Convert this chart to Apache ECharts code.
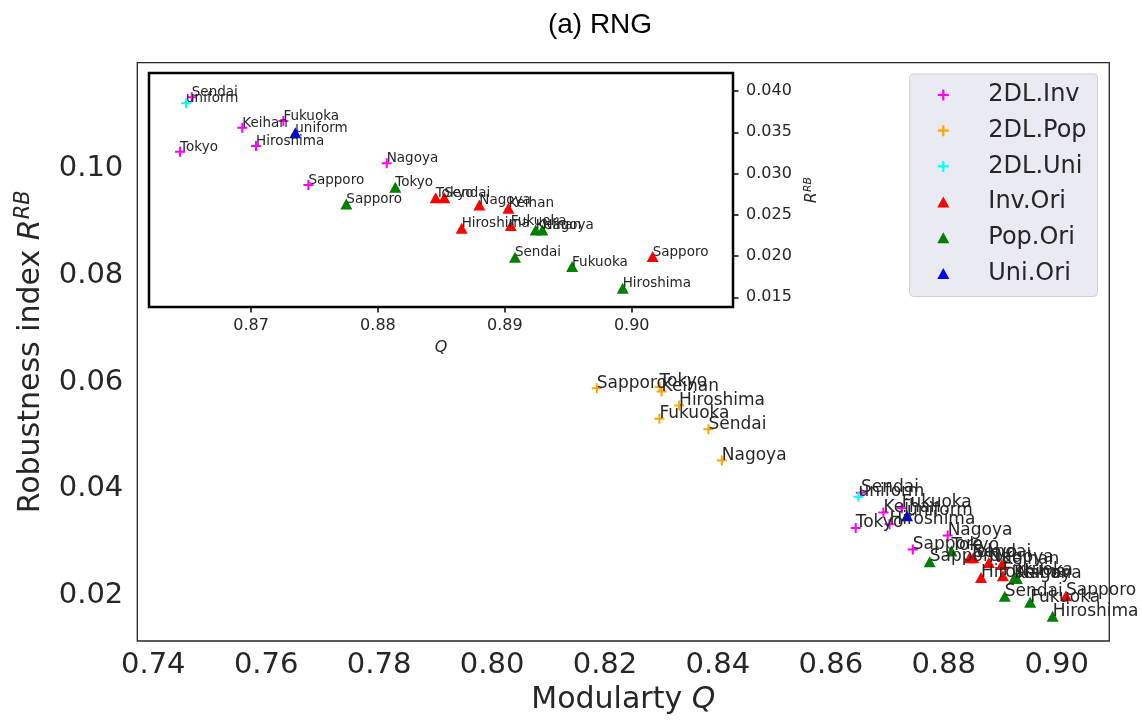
<!DOCTYPE html>
<html>
<head>
<meta charset="utf-8">
<script src="https://cdn.jsdelivr.net/npm/echarts@6/dist/echarts.min.js"></script>
<style>html,body{margin:0;padding:0;background:#fff;}#c{width:1142px;height:723px;}</style>
</head>
<body>
<div id="c"></div>
<script>
// ---- data ----
const cities = ['Tokyo','Sendai','Nagoya','Keihan','Hiroshima','Fukuoka','Sapporo'];
const inv2dlQ = [0.86441,0.86533,0.88069,0.86931,0.87039,0.87255,0.87452];
const inv2dlR = [0.03265,0.03924,0.03125,0.03556,0.03334,0.03637,0.02862];
const pop2dlQ = [0.82967,0.83832,0.84069,0.83003,0.83313,0.82964,0.81855];
const pop2dlR = [0.05906,0.05116,0.04529,0.05822,0.05560,0.05311,0.05884];
const uniNames = ['uniform'];
const uni2dlQ = [0.86488];
const uni2dlR = [0.03851];
const invOriQ = [0.88455,0.88523,0.88799,0.89028,0.88660,0.89047,0.90165];
const invOriR = [0.02708,0.02708,0.02620,0.02580,0.02338,0.02370,0.01994];
const popOriQ = [0.88137,0.89080,0.89296,0.89243,0.89929,0.89530,0.87751];
const popOriR = [0.02834,0.01987,0.02317,0.02317,0.01611,0.01873,0.02632];
const uniOriQ = [0.87349];
const uniOriR = [0.03495];

const mainXTicks = [0.74,0.76,0.78,0.80,0.82,0.84,0.86,0.88,0.90];
const mainYTicks = [0.02,0.04,0.06,0.08,0.10];
const insetXTicks = [0.87,0.88,0.89,0.90];
const insetYTicks = [0.015,0.020,0.025,0.030,0.035,0.040];

// ---- helpers ----
const PLUS = 'path://M4,0H6V4H10V6H6V10H4V6H0V4H4Z';
const TRIPATH = 'path://M6,0L12,11L0,11Z';
const FONT = 'DejaVu Sans';
const TXT = '#262626';
function pts(qs, rs, names){ return qs.map((q,i)=>({name:names[i], value:[q, rs[i]]})); }
function sc(name, data, symbol, size, color, inset){
  return {
    type:'scatter', name:name, data:data,
    xAxisIndex: inset?1:0, yAxisIndex: inset?1:0,
    symbol:symbol, symbolSize:size,
    itemStyle:{color:color, opacity:1},
    z: inset?7:2,
    label:{show:true, formatter:'{b}', position:['50%','50%'], align:'left', verticalAlign:'bottom',
      offset:[0, inset?2.7:3.4], fontSize: inset?13.5:17, fontFamily:FONT, color:TXT},
    emphasis:{disabled:true}, silent:true
  };
}
const TRI = [12,11];
const defs = [
  ['2DL.Inv', pts(inv2dlQ,inv2dlR,cities), PLUS, 10, '#ff00ff', true],
  ['2DL.Pop', pts(pop2dlQ,pop2dlR,cities), PLUS, 10, '#ffa500', false],
  ['2DL.Uni', pts(uni2dlQ,uni2dlR,uniNames), PLUS, 10, '#00ffff', true],
  ['Inv.Ori', pts(invOriQ,invOriR,cities), 'triangle', TRI, '#ff0000', true],
  ['Pop.Ori', pts(popOriQ,popOriR,cities), 'triangle', TRI, '#008000', true],
  ['Uni.Ori', pts(uniOriQ,uniOriR,uniNames), 'triangle', TRI, '#0000ff', true]
];
const series = [];
defs.forEach(d=>{ series.push(sc(d[0],d[1],d[2],d[3],d[4],false)); });
defs.forEach(d=>{ if(d[5]) series.push(sc(d[0],d[1],d[2],d[3],d[4],true)); });

const chart = echarts.init(document.getElementById('c'), null, {renderer:'canvas'});
chart.setOption({
  animation:false,
  backgroundColor:'#ffffff',
  graphic:[
    {type:'text', x:600, y:25, z:20, style:{text:'(a) RNG', font:'28px "Liberation Sans", Arial, sans-serif', fill:'#000', textAlign:'center', textVerticalAlign:'middle'}},
    {type:'rect', z:9, shape:{x:909.5, y:74, width:188, height:222.5, r:4}, style:{fill:'#eaeaf2', stroke:'#cfcfd6', lineWidth:1}}
  ],
  legend:{
    orient:'vertical', left:937.3, top:83, padding:0, z:10,
    itemWidth:12, itemHeight:11, itemGap:11.7, selectedMode:false,
    textStyle:{fontSize:24, fontFamily:FONT, color:TXT, lineHeight:24, padding:[0,0,0,34]},
    data:[
      {name:'2DL.Inv', icon:PLUS},{name:'2DL.Pop', icon:PLUS},{name:'2DL.Uni', icon:PLUS},
      {name:'Inv.Ori', icon:TRIPATH},{name:'Pop.Ori', icon:TRIPATH},{name:'Uni.Ori', icon:TRIPATH}
    ]
  },
  grid:[
    {left:137.3, top:62.7, width:972, height:578.3, show:true, backgroundColor:'#fff', borderColor:'#262626', borderWidth:1.3, z:0},
    {left:149, top:73, width:584, height:234, show:true, backgroundColor:'#fff', borderColor:'#000', borderWidth:2.5, z:5}
  ],
  xAxis:[
    {type:'value', gridIndex:0, min:0.73717, max:0.90932,
     axisLine:{show:false}, axisTick:{show:false}, splitLine:{show:false},
     axisLabel:{customValues:mainXTicks, formatter:v=>v.toFixed(2), fontSize:29, fontFamily:FONT, color:TXT, margin:10},
     name:'Modularty {i|Q}', nameLocation:'middle', nameGap:38,
     nameTextStyle:{fontSize:30, fontFamily:FONT, color:TXT, rich:{i:{fontSize:30, fontFamily:FONT, fontStyle:'italic', color:TXT}}}},
    {type:'value', gridIndex:1, min:0.86196, max:0.90798, z:6,
     axisLine:{show:false}, splitLine:{show:false},
     axisTick:{show:true, customValues:insetXTicks, length:5.5, lineStyle:{color:'#000', width:1.5}},
     axisLabel:{customValues:insetXTicks, formatter:v=>v.toFixed(2), fontSize:16, fontFamily:FONT, color:TXT, margin:11},
     name:'{i|Q}', nameLocation:'middle', nameGap:33,
     nameTextStyle:{fontSize:16, fontFamily:FONT, color:TXT, rich:{i:{fontSize:16, fontFamily:FONT, fontStyle:'italic', color:TXT}}}}
  ],
  yAxis:[
    {type:'value', gridIndex:0, min:0.01148, max:0.11982,
     axisLine:{show:false}, axisTick:{show:false}, splitLine:{show:false},
     axisLabel:{customValues:mainYTicks, formatter:v=>v.toFixed(2), fontSize:29, fontFamily:FONT, color:TXT, margin:14},
     name:'{n|Robustness index }{i|R}{s|RB}', nameLocation:'middle', nameGap:88.8,
     nameTextStyle:{fontSize:30, fontFamily:FONT, color:TXT, rich:{
       n:{fontSize:30, fontFamily:FONT, color:TXT, verticalAlign:'middle'},
       i:{fontSize:30, fontFamily:FONT, fontStyle:'italic', color:TXT, verticalAlign:'middle'},
       s:{fontSize:21, fontFamily:FONT, fontStyle:'italic', color:TXT, padding:[0,0,14,0]}}}},
    {type:'value', gridIndex:1, position:'right', min:0.01383, max:0.04218, z:6,
     axisLine:{show:false}, splitLine:{show:false},
     axisTick:{show:true, customValues:insetYTicks, length:5.5, lineStyle:{color:'#000', width:1.5}},
     axisLabel:{customValues:insetYTicks, formatter:v=>v.toFixed(3), fontSize:16, fontFamily:FONT, color:TXT, margin:13},
     name:'{i|R}{s|RB}', nameLocation:'middle', nameGap:67.5,
     nameTextStyle:{fontSize:16, fontFamily:FONT, color:TXT, rich:{
       i:{fontSize:16, fontFamily:FONT, fontStyle:'italic', color:TXT, verticalAlign:'middle'},
       s:{fontSize:11, fontFamily:FONT, fontStyle:'italic', color:TXT, padding:[0,0,8,0]}}}}
  ],
  series:series
});
</script>
</body>
</html>
